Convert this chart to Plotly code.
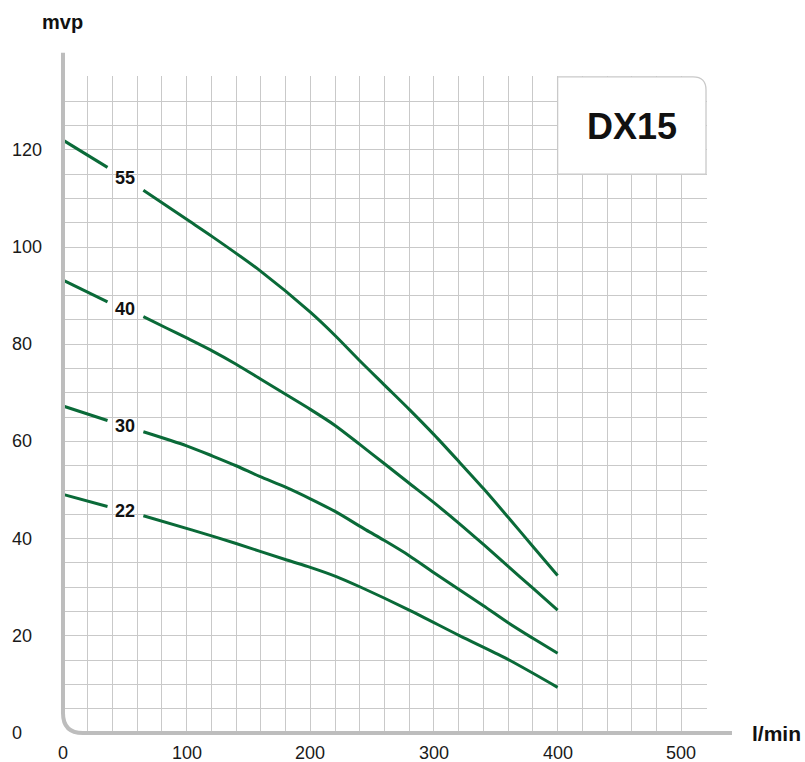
import numpy as np
import plotly.graph_objects as go

# ---- data ----
x_55 = [0, 36, 65, 100, 121, 159, 200, 220, 240, 260, 280, 300, 320, 340, 360, 380, 400]
y_55 = [122.0, 116.4, 111.7, 105.7, 102.1, 95.2, 86.6, 81.8, 76.6, 71.6, 66.6, 61.4, 55.9, 50.3, 44.4, 38.4, 32.4]

x_40 = [0, 36, 65, 84, 100, 121, 140, 160, 180, 200, 220, 240, 260, 280, 300, 320, 340, 360, 380, 400]
y_40 = [93.2, 88.7, 85.7, 83.3, 81.3, 78.6, 75.9, 72.8, 69.7, 66.6, 63.3, 59.4, 55.4, 51.4, 47.4, 43.2, 38.8, 34.3, 29.8, 25.3]

x_30 = [0, 36, 65, 100, 121, 140, 159, 180, 200, 220, 245, 260, 280, 300, 320, 340, 360, 380, 400]
y_30 = [67.3, 64.3, 62.0, 59.1, 57.0, 55.0, 52.8, 50.6, 48.2, 45.6, 41.8, 39.6, 36.5, 33.0, 29.6, 26.2, 22.7, 19.5, 16.4]

x_22 = [0, 36, 65, 104, 140, 181, 200, 221, 240, 280, 321, 358, 400]
y_22 = [49.1, 46.6, 44.7, 41.8, 39.0, 35.6, 34.1, 32.2, 30.1, 25.3, 20.0, 15.4, 9.4]

curve_labels = ["55", "40", "30", "22"]
x_tick_labels = [0, 100, 200, 300, 400, 500]
y_tick_labels = [0, 20, 40, 60, 80, 100, 120]
model_name = "DX15"
x_title = "l/min"
y_title = "mvp"

# ---- styling / layout constants ----
GREEN = "#0a6a38"
GRID = "#c9c9c9"
AXIS = "#bdbdbd"
FONT = "Liberation Sans, Arial, sans-serif"
X_RANGE = [-0.8, 520.8]
Y_RANGE = [-0.2, 135.2]
GAP = (36, 65)          # label gap in curves
LABEL_X = 50
GRID_XMAX, GRID_YMAX = 520, 135
BOX_X0, BOX_Y0 = 400, 115

def xp(v):
    return (v - X_RANGE[0]) / (X_RANGE[1] - X_RANGE[0])

def yp(v):
    return (v - Y_RANGE[0]) / (Y_RANGE[1] - Y_RANGE[0])

fig = go.Figure()
curves = [(x_55, y_55), (x_40, y_40), (x_30, y_30), (x_22, y_22)]
annotations = []
for (xs, ys), lab in zip(curves, curve_labels):
    xs = np.array(xs, float)
    ys = np.array(ys, float)
    for mask in (xs <= GAP[0], xs >= GAP[1]):
        fig.add_trace(go.Scatter(x=xs[mask], y=ys[mask], mode="lines",
                                 line=dict(color=GREEN, width=3, shape="spline", smoothing=0.8),
                                 hoverinfo="skip", showlegend=False))
    annotations.append(dict(x=LABEL_X, y=float(np.interp(LABEL_X, xs, ys)), xref="x", yref="y",
                            text="<b>%s</b>" % lab, showarrow=False,
                            font=dict(family=FONT, size=18, color="#111111"),
                            xanchor="center", yanchor="middle"))

for t in x_tick_labels:
    annotations.append(dict(x=t, y=0, xref="x", yref="y", text=str(t), showarrow=False,
                            yshift=-20, xanchor="center", yanchor="middle",
                            font=dict(family=FONT, size=18, color="#1a1a1a")))
for t in y_tick_labels:
    annotations.append(dict(x=0, y=t, xref="x", yref="y", text=str(t), showarrow=False,
                            xshift=-53, xanchor="left", yanchor="middle",
                            font=dict(family=FONT, size=18, color="#1a1a1a")))

annotations.append(dict(x=0, y=GRID_YMAX, xref="x", yref="y", text="<b>%s</b>" % y_title,
                        showarrow=False, yshift=55, xanchor="center", yanchor="middle",
                        font=dict(family=FONT, size=20, color="#111111")))
annotations.append(dict(x=GRID_XMAX, y=0, xref="x", yref="y", text="<b>%s</b>" % x_title,
                        showarrow=False, xshift=44, xanchor="left", yanchor="middle",
                        font=dict(family=FONT, size=21, color="#111111")))
annotations.append(dict(x=(BOX_X0 + GRID_XMAX) / 2, y=(BOX_Y0 + GRID_YMAX) / 2 - 0.25,
                        xref="x", yref="y", text="<b>%s</b>" % model_name, showarrow=False,
                        xanchor="center", yanchor="middle",
                        font=dict(family=FONT, size=36, color="#111111")))

# rounded box corner radius in data units (≈13 px)
rx, ry = 10.5, 2.7
shapes = [
    # wipe square grid corner
    dict(type="rect", xref="x", yref="y", x0=GRID_XMAX - rx - 1, x1=X_RANGE[1],
         y0=GRID_YMAX - ry - 0.3, y1=Y_RANGE[1], fillcolor="white", line=dict(width=0),
         layer="between"),
    # title box
    dict(type="path", xref="x", yref="y", layer="between", fillcolor="white",
         line=dict(color=GRID, width=1.3),
         path=(f"M {BOX_X0},{BOX_Y0} L {BOX_X0},{GRID_YMAX} L {GRID_XMAX - rx},{GRID_YMAX} "
               f"Q {GRID_XMAX},{GRID_YMAX} {GRID_XMAX},{GRID_YMAX - ry} L {GRID_XMAX},{BOX_Y0} Z")),
]
# axes L with rounded corner (paper coords)
pw, ph = 645, 658
crx, cry = 20 / pw, 20 / ph
shapes.append(dict(type="path", xref="paper", yref="paper", layer="above",
                   line=dict(color=AXIS, width=4),
                   path=(f"M {xp(0)},{yp(140)} L {xp(0)},{yp(0) + cry} "
                         f"Q {xp(0)},{yp(0)} {xp(0) + crx},{yp(0)} L {xp(541)},{yp(0)}")))

fig.update_layout(
    width=805, height=762,
    margin=dict(l=62, r=98, t=76, b=28),
    paper_bgcolor="white", plot_bgcolor="white",
    showlegend=False, hovermode=False,
    xaxis=dict(range=X_RANGE, tick0=0, dtick=20, showgrid=True, gridcolor=GRID, gridwidth=1.3,
               zeroline=False, showline=False, showticklabels=False, ticks="", fixedrange=True),
    yaxis=dict(range=Y_RANGE, tick0=0, dtick=5, showgrid=True, gridcolor=GRID, gridwidth=1.3,
               zeroline=False, showline=False, showticklabels=False, ticks="", fixedrange=True),
    annotations=annotations, shapes=shapes,
)

# remove the default 8px page margin so the figure fills the window exactly
fig.write_html("out.html", config={"displayModeBar": False},
               post_script="document.body.style.margin='0';document.body.style.overflow='hidden';")
